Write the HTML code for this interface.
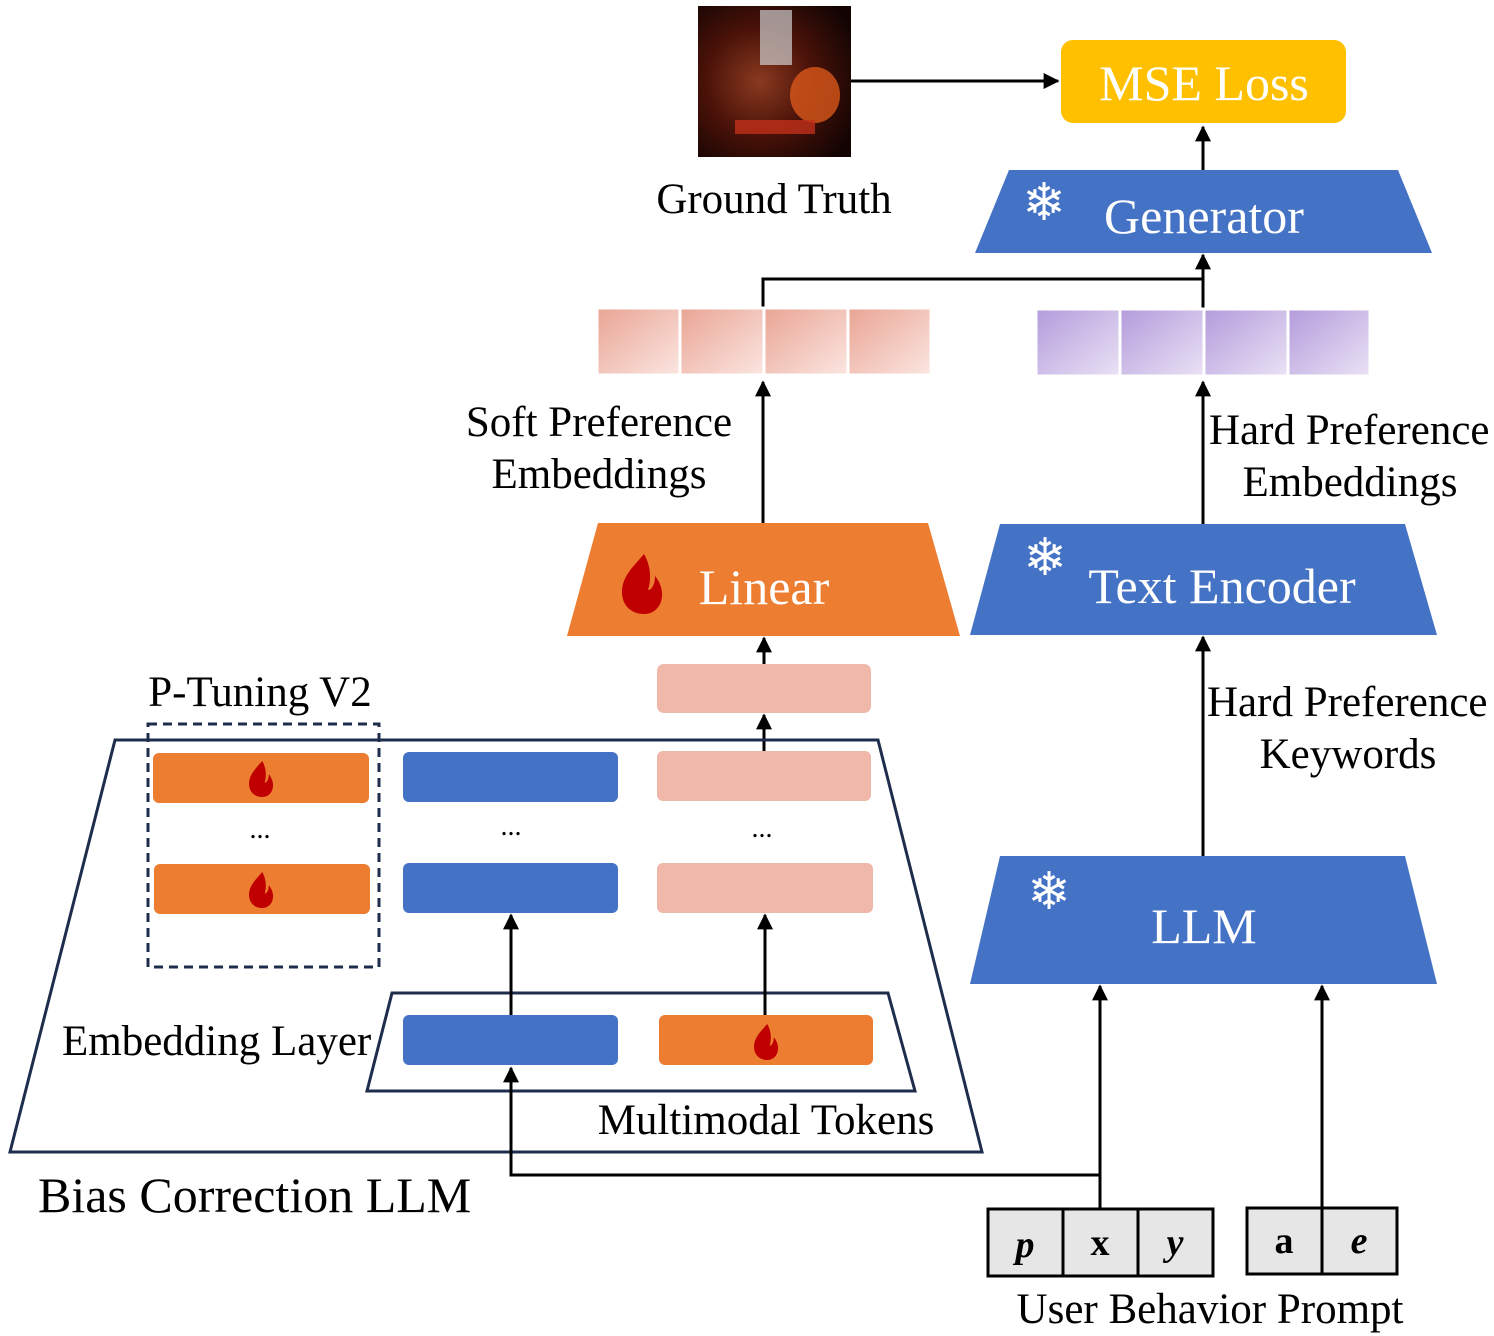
<!DOCTYPE html>
<html><head><meta charset="utf-8"><style>body{margin:0;background:#fff}svg{display:block}text{font-family:"Liberation Serif",serif}</style></head><body>
<svg width="1494" height="1336" viewBox="0 0 1494 1336" xmlns="http://www.w3.org/2000/svg">
<defs>
<marker id="ah" viewBox="0 0 10 10" refX="9" refY="5" markerWidth="18" markerHeight="16" markerUnits="userSpaceOnUse" orient="auto"><path d="M0,0L10,5L0,10z"/></marker>
<linearGradient id="pk" x1="0" y1="0" x2="1" y2="1"><stop offset="0" stop-color="#E9A494"/><stop offset="1" stop-color="#FBE6E1"/></linearGradient>
<linearGradient id="pu" x1="0" y1="0" x2="1" y2="1"><stop offset="0" stop-color="#B39BDB"/><stop offset="1" stop-color="#EAE2F5"/></linearGradient>
<radialGradient id="po" cx="0.4" cy="0.5" r="0.7"><stop offset="0" stop-color="#8a3a20"/><stop offset="0.5" stop-color="#4a1208"/><stop offset="1" stop-color="#120403"/></radialGradient>
<g id="fire"><path d="M2,-30 C-8,-18 -20,-8 -20,8 C-20,22 -10,30 2,30 C14,30 21,20 20,8 C19,0 15,-6 13,-8 C13,0 10,6 6,6 C10,-6 8,-20 2,-30Z" fill="#C00000"/></g>
</defs>
<rect x="698" y="6" width="153" height="151" fill="url(#po)"/>
<rect x="760" y="10" width="32" height="55" fill="#cfcfcf" opacity="0.7"/>
<ellipse cx="815" cy="95" rx="25" ry="28" fill="#d8581a" opacity="0.8"/>
<rect x="735" y="120" width="80" height="14" fill="#c0301a" opacity="0.8"/>
<text x="774" y="213" font-size="43" text-anchor="middle">Ground Truth</text>
<line x1="851" y1="81" x2="1058" y2="81" stroke="#000" stroke-width="3" marker-end="url(#ah)"/>
<rect x="1061" y="40" width="285" height="83" rx="12" fill="#FFC000"/>
<text x="1204" y="100" font-size="50" fill="#fff" text-anchor="middle">MSE Loss</text>
<line x1="1203" y1="170" x2="1203" y2="127" stroke="#000" stroke-width="3" marker-end="url(#ah)"/>
<polygon points="1009,170 1398,170 1432,253 975,253" fill="#4472C4"/>
<text x="1204" y="233" font-size="50" fill="#fff" text-anchor="middle">Generator</text>
<text x="1044" y="220" font-size="52" fill="#fff" text-anchor="middle">❄</text>
<polyline points="763,308 763,279 1203,279" fill="none" stroke="#000" stroke-width="3"/>
<line x1="1203" y1="308" x2="1203" y2="255" stroke="#000" stroke-width="3" marker-end="url(#ah)"/>
<g stroke="#fff" stroke-width="3">
<rect x="597" y="308" width="83" height="67" fill="url(#pk)"/><rect x="680" y="308" width="84" height="67" fill="url(#pk)"/><rect x="764" y="308" width="84" height="67" fill="url(#pk)"/><rect x="848" y="308" width="83" height="67" fill="url(#pk)"/>
<rect x="1036" y="309" width="84" height="67" fill="url(#pu)"/><rect x="1120" y="309" width="84" height="67" fill="url(#pu)"/><rect x="1204" y="309" width="84" height="67" fill="url(#pu)"/><rect x="1288" y="309" width="82" height="67" fill="url(#pu)"/>
</g>
<line x1="763" y1="523" x2="763" y2="382" stroke="#000" stroke-width="3" marker-end="url(#ah)"/>
<line x1="1203" y1="524" x2="1203" y2="382" stroke="#000" stroke-width="3" marker-end="url(#ah)"/>
<text x="599" y="436" font-size="43" text-anchor="middle">Soft Preference</text>
<text x="599" y="488" font-size="43" text-anchor="middle">Embeddings</text>
<text x="1209" y="444" font-size="43">Hard Preference</text>
<text x="1350" y="496" font-size="43" text-anchor="middle">Embeddings</text>
<polygon points="598,523 928,523 960,636 567,636" fill="#ED7D31"/>
<text x="764" y="604" font-size="50" fill="#fff" text-anchor="middle">Linear</text>
<use href="#fire" transform="translate(642,584)"/>
<polygon points="1000,524 1405,524 1437,635 970,635" fill="#4472C4"/>
<text x="1222" y="603" font-size="50" fill="#fff" text-anchor="middle">Text Encoder</text>
<text x="1045" y="575" font-size="52" fill="#fff" text-anchor="middle">❄</text>
<line x1="1203" y1="856" x2="1203" y2="637" stroke="#000" stroke-width="3" marker-end="url(#ah)"/>
<text x="1207" y="716" font-size="43">Hard Preference</text>
<text x="1348" y="768" font-size="43" text-anchor="middle">Keywords</text>
<polygon points="1000,856 1405,856 1437,984 970,984" fill="#4472C4"/>
<text x="1204" y="943" font-size="50" fill="#fff" text-anchor="middle">LLM</text>
<text x="1049" y="909" font-size="52" fill="#fff" text-anchor="middle">❄</text>
<line x1="764" y1="664" x2="764" y2="638" stroke="#000" stroke-width="3" marker-end="url(#ah)"/>
<rect x="657" y="664" width="214" height="49" rx="7" fill="#EFB8A8"/>
<line x1="764" y1="751" x2="764" y2="715" stroke="#000" stroke-width="3" marker-end="url(#ah)"/>
<polygon points="115,740 878,740 982,1152 10,1152" fill="none" stroke="#1F2D4D" stroke-width="3"/>
<rect x="148" y="724" width="231" height="243" fill="none" stroke="#1F2D4D" stroke-width="3" stroke-dasharray="9,6"/>
<text x="260" y="706" font-size="43" text-anchor="middle">P-Tuning V2</text>
<rect x="153" y="753" width="216" height="50" rx="6" fill="#ED7D31"/>
<rect x="154" y="864" width="216" height="50" rx="6" fill="#ED7D31"/>
<use href="#fire" transform="translate(261,779) scale(0.6)"/>
<use href="#fire" transform="translate(261,890) scale(0.6)"/>
<rect x="403" y="752" width="215" height="50" rx="6" fill="#4472C4"/>
<rect x="403" y="863" width="215" height="50" rx="6" fill="#4472C4"/>
<rect x="657" y="751" width="214" height="50" rx="6" fill="#EFB8A8"/>
<rect x="657" y="863" width="216" height="50" rx="6" fill="#EFB8A8"/>
<text x="260" y="838" font-size="28" text-anchor="middle">...</text>
<text x="511" y="835" font-size="28" text-anchor="middle">...</text>
<text x="762" y="837" font-size="28" text-anchor="middle">...</text>
<polygon points="392,993 888,993 915,1091 367,1091" fill="none" stroke="#1F2D4D" stroke-width="3"/>
<line x1="511" y1="1015" x2="511" y2="915" stroke="#000" stroke-width="3" marker-end="url(#ah)"/>
<line x1="765" y1="1015" x2="765" y2="915" stroke="#000" stroke-width="3" marker-end="url(#ah)"/>
<rect x="403" y="1015" width="215" height="50" rx="6" fill="#4472C4"/>
<rect x="659" y="1015" width="214" height="50" rx="6" fill="#ED7D31"/>
<use href="#fire" transform="translate(766,1042) scale(0.6)"/>
<text x="62" y="1055" font-size="43">Embedding Layer</text>
<text x="766" y="1134" font-size="43" text-anchor="middle">Multimodal Tokens</text>
<text x="38" y="1212" font-size="50">Bias Correction LLM</text>
<line x1="1100" y1="1209" x2="1100" y2="986" stroke="#000" stroke-width="3" marker-end="url(#ah)"/>
<polyline points="1100,1175 511,1175 511,1068" fill="none" stroke="#000" stroke-width="3" marker-end="url(#ah)"/>
<line x1="1322" y1="1208" x2="1322" y2="986" stroke="#000" stroke-width="3" marker-end="url(#ah)"/>
<g stroke="#000" stroke-width="3" fill="#E7E6E6">
<rect x="988" y="1209" width="75" height="67"/><rect x="1063" y="1209" width="75" height="67"/><rect x="1138" y="1209" width="75" height="67"/>
<rect x="1247" y="1208" width="75" height="66"/><rect x="1322" y="1208" width="75" height="66"/>
</g>
<g font-size="38" font-weight="bold" text-anchor="middle">
<text x="1025" y="1257" font-style="italic">p</text><text x="1100" y="1255">x</text><text x="1175" y="1255" font-style="italic">y</text>
<text x="1284" y="1253">a</text><text x="1359" y="1253" font-style="italic">e</text>
</g>
<text x="1210" y="1323" font-size="43" text-anchor="middle">User Behavior Prompt</text>
</svg>
</body></html>
